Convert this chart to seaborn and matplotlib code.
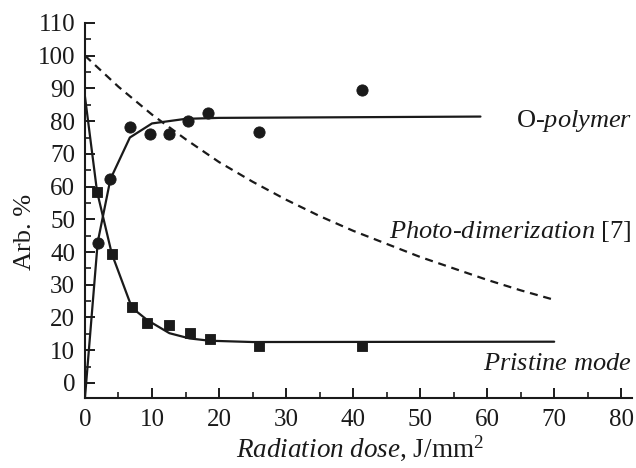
import numpy as np
import matplotlib
matplotlib.use("Agg")
import matplotlib.pyplot as plt
import seaborn as sns
from matplotlib.ticker import MultipleLocator

# --- measured points ---
opoly_x = [1.9, 3.8, 6.7, 9.7, 12.5, 15.4, 18.4, 26.0, 41.3]
opoly_y = [42.9, 62.3, 78.2, 76.2, 76.2, 80.1, 82.6, 76.8, 89.6]

prist_x = [1.8, 4.0, 7.0, 9.3, 12.6, 15.6, 18.6, 25.9, 41.4]
prist_y = [58.3, 39.5, 23.1, 18.2, 17.6, 15.4, 13.4, 11.2, 11.3]

# --- fitted curves ---
opoly_fit_x = [0, 1.9, 3.8, 6.7, 10.0, 15.0, 20.0, 40.0, 59.0]
opoly_fit_y = [-4.5, 43.0, 62.3, 75.0, 79.3, 80.7, 81.0, 81.2, 81.4]

prist_fit_x = [0, 1.8, 4.0, 7.0, 9.3, 12.6, 15.6, 18.6, 25.0, 70.0]
prist_fit_y = [87.5, 58.5, 39.5, 23.0, 19.2, 15.2, 13.6, 12.9, 12.5, 12.6]

dimer_x = [0, 5, 10, 15, 20, 25, 30, 35, 40, 45, 50, 55, 60, 65, 70]
dimer_y = [100, 90.5, 82, 74.5, 67.5, 61.5, 56, 51, 46.5, 42.5, 38.5, 35, 31.5, 28.3, 25.4]

INK = "#1a1a1a"

sns.set_theme(style="ticks")
plt.rcParams["font.family"] = ["Liberation Serif", "DejaVu Serif"]
plt.rcParams["mathtext.fontset"] = "custom"
plt.rcParams["mathtext.rm"] = "Liberation Serif"
plt.rcParams["mathtext.it"] = "Liberation Serif:italic"

fig = plt.figure(figsize=(6.36, 4.68), dpi=100)
ax = fig.add_axes([0.1336, 0.1496, 0.860, 0.8013])

sns.lineplot(x=opoly_fit_x, y=opoly_fit_y, ax=ax, color=INK, lw=1.6)
sns.lineplot(x=prist_fit_x, y=prist_fit_y, ax=ax, color=INK, lw=1.6)
sns.lineplot(x=dimer_x, y=dimer_y, ax=ax, color=INK, lw=1.6,
             linestyle=(0, (3.6, 2.6)))
sns.scatterplot(x=opoly_x, y=opoly_y, ax=ax, marker="o", s=65,
                color=INK, edgecolor=INK, zorder=3)
sns.scatterplot(x=prist_x, y=prist_y, ax=ax, marker="s", s=60,
                color=INK, edgecolor=INK, zorder=3)

ax.set_xlim(0, 81.6)
ax.set_ylim(-4.6, 110)
ax.set_xticks(np.arange(0, 81, 10))
ax.set_yticks(np.arange(0, 111, 10))
ax.xaxis.set_minor_locator(MultipleLocator(5))
ax.yaxis.set_minor_locator(MultipleLocator(5))

sns.despine(ax=ax)
for s in ["left", "bottom"]:
    ax.spines[s].set_linewidth(1.5)
    ax.spines[s].set_color(INK)
ax.tick_params(which="both", direction="in", colors=INK, labelsize=18)
ax.tick_params(which="major", length=7, width=1.4, pad=7)
ax.tick_params(which="minor", length=4, width=1.2)
ax.tick_params(axis="x", which="major", pad=8)

ax.set_xlabel(r"$\mathit{Radiation\ dose}$, J/mm$^2$", fontsize=19.5, color=INK)
ax.set_ylabel("Arb. %", fontsize=19, color=INK)
ax.xaxis.set_label_coords(0.503, -0.093)
ax.yaxis.set_label_coords(-0.09, 0.443)

tr = ax.get_yaxis_transform()
ax.text(1.0, 78.2, r"O-$\mathit{polymer}$", transform=tr, ha="right",
        va="baseline", fontsize=19, color=INK)
ax.text(1.0, 44.3, r"$\mathit{Photo}$-$\mathit{dimerization}$ [7]", transform=tr,
        ha="right", va="baseline", fontsize=19, color=INK)
ax.text(1.0, 4.0, r"$\mathit{Pristine\ mode}$", transform=tr, ha="right",
        va="baseline", fontsize=19, color=INK)

fig.savefig("out.png", dpi=100)
